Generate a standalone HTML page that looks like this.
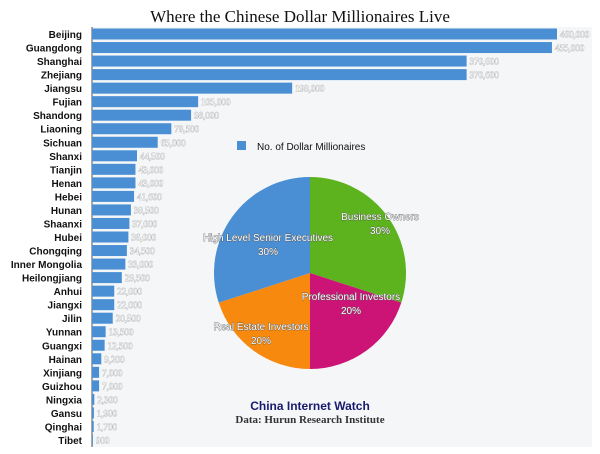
<!DOCTYPE html>
<html><head><meta charset="utf-8"><style>
body{margin:0;background:#fff;width:600px;height:454px;overflow:hidden}
svg{display:block}
</style></head><body>
<svg id="c" width="600" height="454" xmlns="http://www.w3.org/2000/svg">
<text x="300" y="22" text-anchor="middle" font-family="Liberation Serif, serif" font-size="17" fill="#111">Where the Chinese Dollar Millionaires Live</text>
<rect x="92" y="27" width="500" height="420" fill="#f4f6f8"/>
<line x1="92" y1="27" x2="92" y2="447" stroke="#555" stroke-width="1"/>
<g id="bars"></g>
<g id="legend">
<rect x="237" y="141" width="9" height="9" fill="#4a8fd4"/>
<text x="257" y="150" font-family="Liberation Sans, sans-serif" font-size="10" fill="#111">No. of Dollar Millionaires</text>
</g>
<g id="pie"></g>
<text x="310" y="410" text-anchor="middle" font-family="Liberation Sans, sans-serif" font-weight="bold" font-size="12" fill="#1a1a6e">China Internet Watch</text>
<text x="310" y="423" text-anchor="middle" font-family="Liberation Serif, serif" font-weight="bold" font-size="11" fill="#333">Data: Hurun Research Institute</text>
</svg>
<script>
const categories=["Beijing","Guangdong","Shanghai","Zhejiang","Jiangsu","Fujian","Shandong","Liaoning","Sichuan","Shanxi","Tianjin","Henan","Hebei","Hunan","Shaanxi","Hubei","Chongqing","Inner Mongolia","Heilongjiang","Anhui","Jiangxi","Jilin","Yunnan","Guangxi","Hainan","Xinjiang","Guizhou","Ningxia","Gansu","Qinghai","Tibet"];
const values=[460000,455000,370600,370600,198000,105000,98000,78500,65000,44500,43000,43000,41600,38500,37000,36000,34500,33000,29500,22000,22000,20500,13500,12500,9200,7000,7000,2300,1900,1700,900];
const pieLabels=["Business Owners","Professional Investors","Real Estate Investors","High Level Senior Executives"];
const pieValues=[30,20,20,30];
const pieColors=["#5cb31e","#cc1477","#f7890e","#4a8fd4"];
const NS="http://www.w3.org/2000/svg";
const x0=92,xScale=v=>x0+v*(465/460000);
const yTop=34,yBot=440;
const yScale=i=>yTop+i*(yBot-yTop)/(categories.length-1);
const bars=document.getElementById('bars');
function mk(t,a,p){const e=document.createElementNS(NS,t);for(const k in a)e.setAttribute(k,a[k]);p.appendChild(e);return e;}
categories.forEach((c,i)=>{
  const y=yScale(i);
  const r=mk('rect',{x:x0,y:y-5.5,width:Math.max(0.5,xScale(values[i])-x0),height:11,fill:'#4a8fd4'},bars);
  
  
  const l=mk('text',{x:82,y:y+4,'text-anchor':'end','font-family':'Liberation Sans, sans-serif','font-weight':'bold','font-size':'10',fill:'#111'},bars);
  l.textContent=c;
  
  
  const v=mk('text',{x:xScale(values[i])+3,y:y+3.5,'font-family':'Liberation Serif, serif','font-size':'9',fill:'#fff',stroke:'#999','stroke-width':'0.6','paint-order':'stroke'},bars);
  v.textContent=values[i].toLocaleString('en-US');
  
  
});
const pie=document.getElementById('pie');
const cx=310,cy=273,R=96;
const total=pieValues.reduce((a,b)=>a+b,0);
let ang=0;
const labelPos=[[380,220],[351,300],[261,330],[268,241]];
pieValues.forEach((v,i)=>{
  const a0=ang,a1=ang+v/total*2*Math.PI;ang=a1;
  const p=(a)=>[cx+R*Math.sin(a),cy-R*Math.cos(a)];
  const [xa,ya]=p(a0),[xb,yb]=p(a1);
  const s=mk('path',{d:`M${cx},${cy}L${xa},${ya}A${R},${R} 0 ${a1-a0>Math.PI?1:0} 1 ${xb},${yb}Z`,fill:pieColors[i]},pie);
  
  
});
pieValues.forEach((v,i)=>{
  const [lx,ly]=labelPos[i];
  const t=mk('text',{x:lx,y:ly,'text-anchor':'middle','font-family':'Liberation Sans, sans-serif','font-size':'10',fill:'#fff',stroke:'#555','stroke-width':'0.7','paint-order':'stroke'},pie);
  t.textContent=pieLabels[i];
  
  
  const t2=mk('text',{x:lx,y:ly+14,'text-anchor':'middle','font-family':'Liberation Sans, sans-serif','font-size':'10',fill:'#fff',stroke:'#555','stroke-width':'0.7','paint-order':'stroke'},pie);
  t2.textContent=v+'%';
  
  
});
</script>
</body></html>
